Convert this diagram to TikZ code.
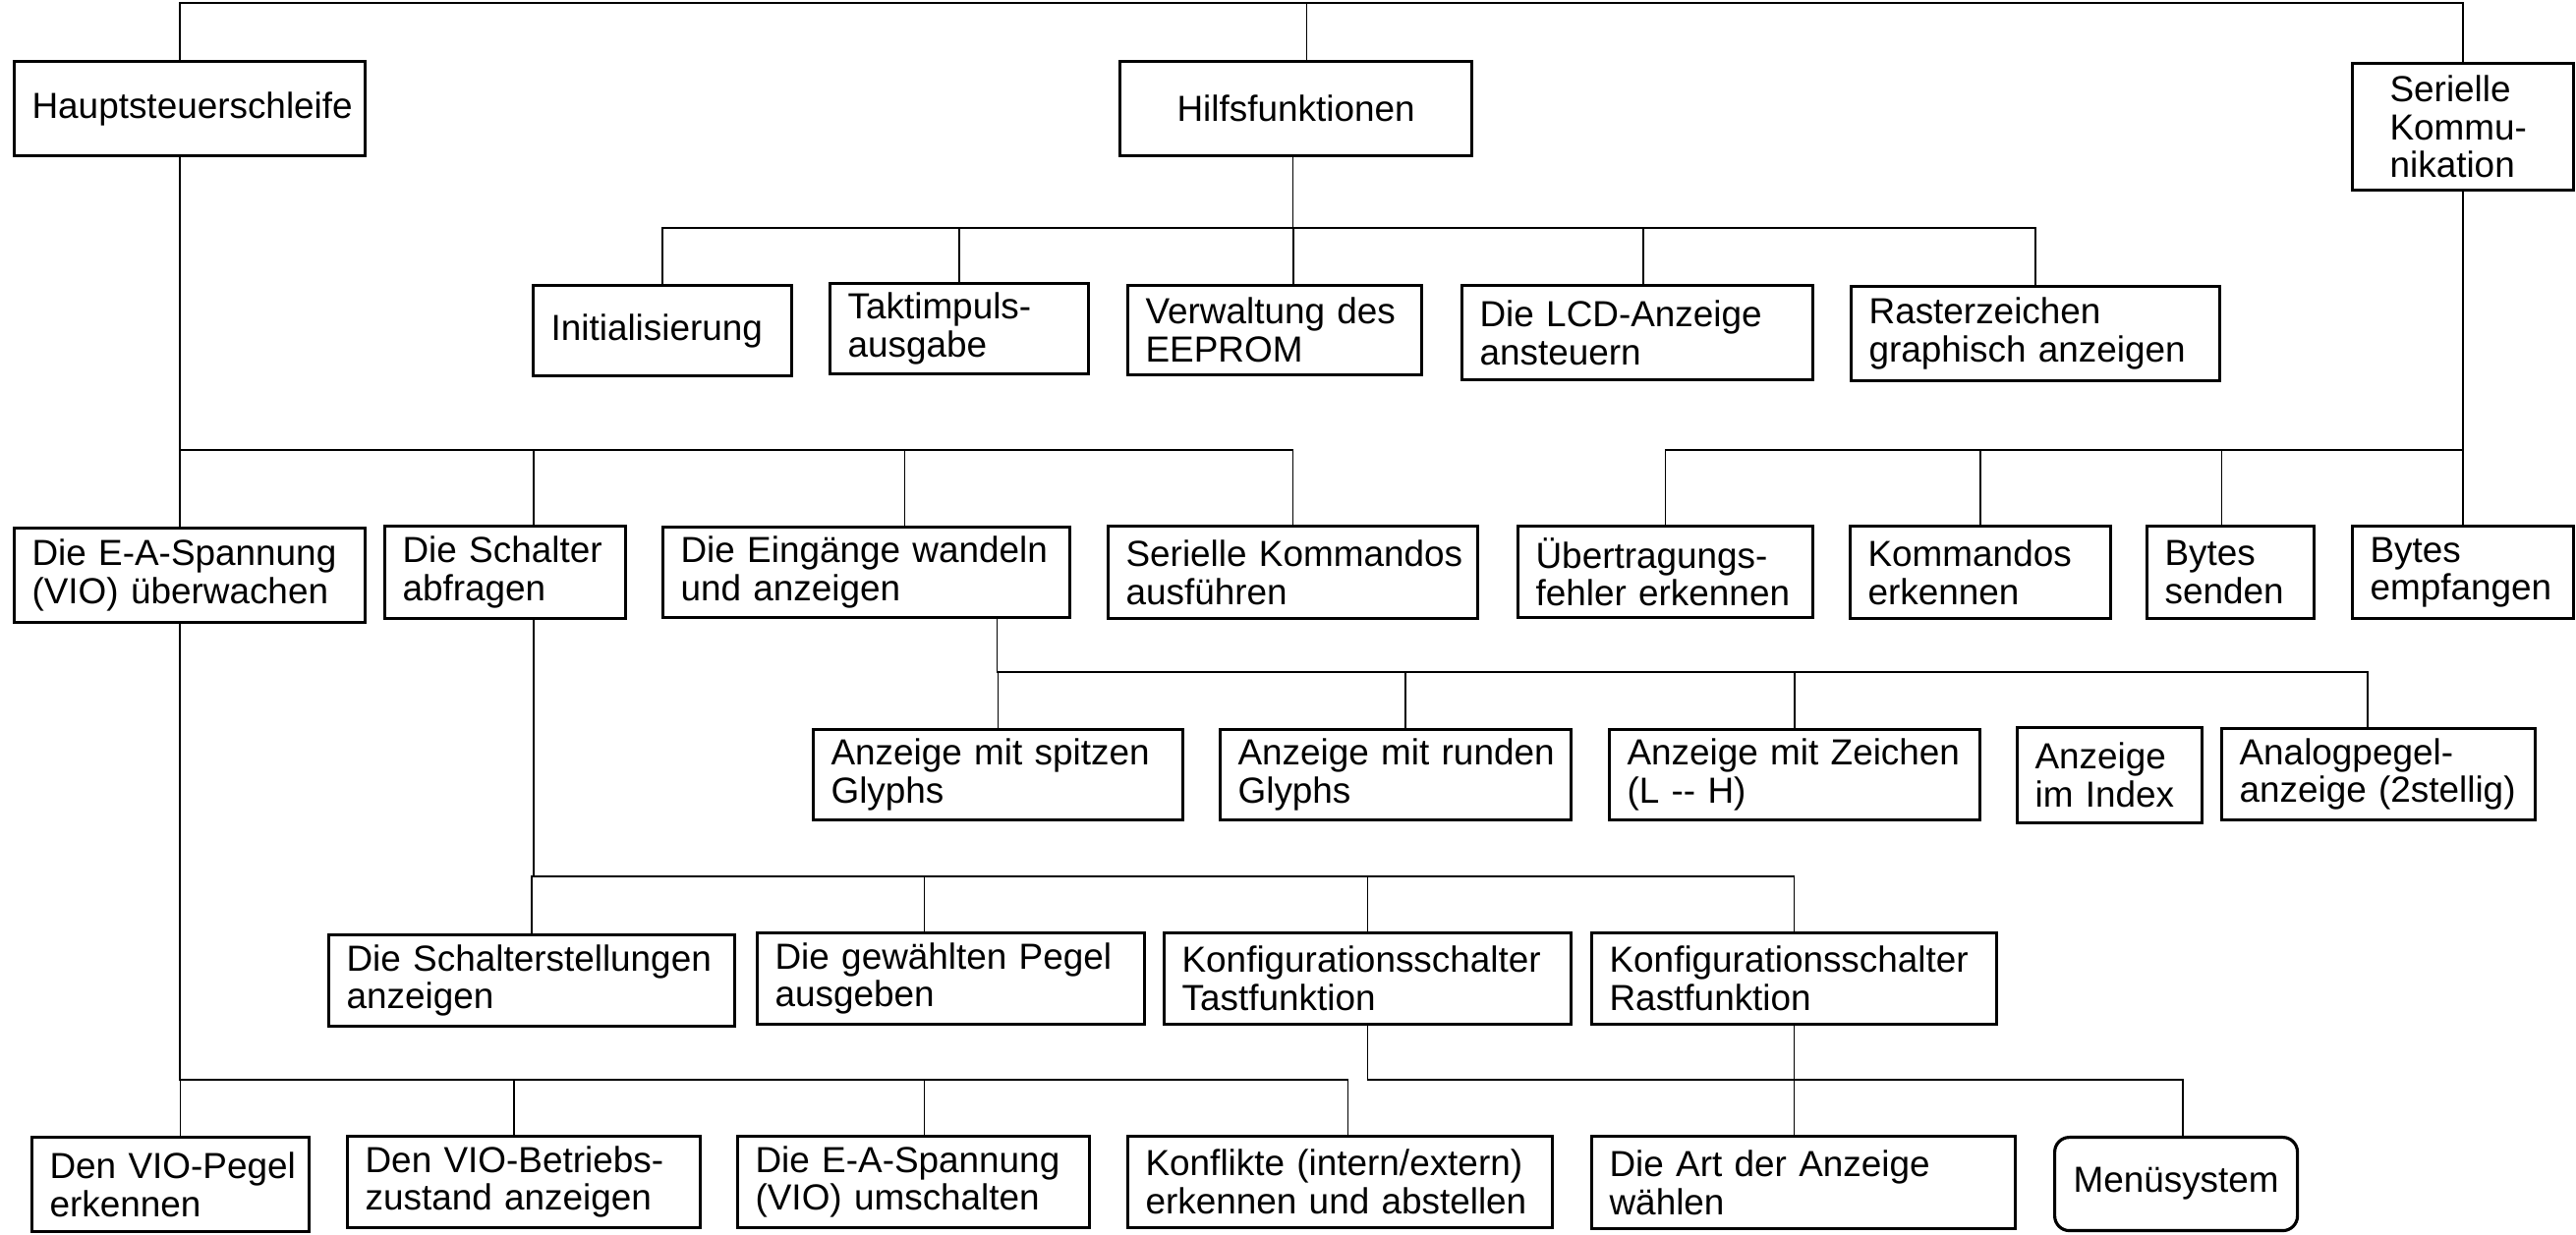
\documentclass[tikz,border=0pt]{standalone}
\usepackage{fontspec}
\setmainfont{Liberation Sans}
\usepackage{tikz}
\hyphenpenalty=10000
\exhyphenpenalty=10000

\begin{document}
\begin{tikzpicture}[-]
                \tikzstyle{box}=[rectangle,draw=black,line width=0.9pt,anchor=north west,inner xsep=0.18cm,inner ysep=0pt,align=left,font=\fontsize{10.5}{11}\selectfont]
                \tikzstyle{link}=[line width=0.45pt]
                \useasboundingbox (0,0) rectangle (26.21,-12.57);

                \foreach \nm/\x/\y/\w/\h/\txt in {haupt/0.13/-0.61/3.57/0.96/{Hauptsteuerschleife},
                        init/5.41/-2.89/2.63/0.92/{Initialisierung},
                        takt/8.43/-2.87/2.63/0.92/{Taktimpuls-\\ausgabe},
                        verw/11.46/-2.89/2.99/0.91/{Verwaltung des\\EEPROM},
                        lcd/14.86/-2.89/3.57/0.96/{Die LCD-Anzeige\\ansteuern},
                        raster/18.82/-2.90/3.75/0.96/{Rasterzeichen\\graphisch anzeigen},
                        vio/0.13/-5.36/3.57/0.96/{Die~E-A-Spannung\\(VIO) überwachen},
                        schalter/3.90/-5.34/2.45/0.94/{Die~Schalter\\abfragen},
                        eing/6.73/-5.35/4.14/0.92/{Die~Eingänge~wandeln\\und anzeigen},
                        serkom/11.26/-5.34/3.76/0.94/{Serielle~Kommandos\\ausführen},
                        ueber/15.43/-5.34/3.00/0.93/{Übertragungs-\\fehler~erkennen},
                        kommerk/18.81/-5.34/2.65/0.94/{Kommandos\\erkennen},
                        bsend/21.83/-5.34/1.70/0.94/{Bytes\\senden},
                        bempf/23.92/-5.34/2.25/0.94/{Bytes\\empfangen},
                        spitz/8.26/-7.41/3.76/0.92/{Anzeige mit spitzen\\Glyphs},
                        rund/12.40/-7.41/3.57/0.92/{Anzeige~mit~runden\\Glyphs},
                        zeich/16.36/-7.41/3.77/0.92/{Anzeige~mit~Zeichen\\(L {-}{-} H)},
                        index/20.51/-7.39/1.88/0.97/{Anzeige\\im Index},
                        analog/22.59/-7.40/3.19/0.93/{Analogpegel-\\anzeige~(2stellig)},
                        stell/3.33/-9.50/4.13/0.93/{Die~Schalterstellungen\\anzeigen},
                        pegel/7.69/-9.48/3.94/0.93/{Die gewählten Pegel\\ausgeben},
                        tast/11.83/-9.48/4.14/0.93/{Konfigurationsschalter\\Tastfunktion},
                        rast/16.18/-9.48/4.12/0.93/{Konfigurationsschalter\\Rastfunktion},
                        vpegel/0.31/-11.56/2.82/0.96/{Den~VIO-Pegel\\erkennen},
                        betr/3.52/-11.55/3.59/0.93/{Den VIO-Betriebs-\\zustand anzeigen},
                        umsch/7.49/-11.55/3.58/0.93/{Die~E-A-Spannung\\(VIO) umschalten},
                        konfl/11.46/-11.55/4.32/0.93/{Konflikte (intern/extern)\\erkennen und abstellen},
                        art/16.18/-11.55/4.31/0.94/{Die Art der Anzeige\\wählen}}
                        \node[box,minimum width=\w cm,minimum height=\h cm,text width=\w cm-0.36cm] (\nm) at (\x,\y) {\txt};

                \node[box,align=center,minimum height=0.96cm,text width=3.22cm] (hilf) at (11.38,-0.61) {Hilfsfunktionen};
                \node[box,inner xsep=0.38cm,minimum height=1.29cm,text width=1.49cm] (seriell) at (23.92,-0.63) {Serielle\\Kommu-\\nikation};
                \node[box,rounded corners=0.15cm,align=center,minimum height=0.95cm,text width=2.11cm] (menue) at (20.89,-11.56) {Menüsystem};

                \coordinate (b0) at (0,-0.03);
                \coordinate (b1) at (0,-2.32);
                \coordinate (b2) at (0,-4.58);
                \coordinate (b3) at (0,-6.84);
                \coordinate (b4) at (0,-8.92);
                \coordinate (b5) at (0,-10.99);

                \draw[link] ([xshift=-0.10cm]haupt.north) |- ([xshift=0.11cm]hilf.north |- b0) -- ([xshift=0.11cm]hilf.north);
                \draw[link] ([xshift=0.11cm]hilf.north |- b0) -| (seriell.north);

                \foreach \from/\fx/\to/\tx/\bus in {hilf/-0.03/init/0/b1, hilf/-0.03/takt/0/b1, hilf/-0.03/verw/0.19/b1,
                        hilf/-0.03/lcd/0.06/b1, hilf/-0.03/raster/0/b1,
                        haupt/-0.10/vio/-0.10/b2, haupt/-0.10/schalter/0.29/b2, haupt/-0.10/eing/0.39/b2, haupt/-0.10/serkom/0/b2,
                        seriell/0/ueber/0/b2, seriell/0/kommerk/0/b2, seriell/0/bsend/-0.09/b2, seriell/0/bempf/0/b2,
                        eing/1.33/spitz/0/b3, eing/1.33/rund/0.10/b3, eing/1.33/zeich/0/b3, eing/1.33/analog/-0.11/b3,
                        schalter/0.29/stell/0/b4, schalter/0.29/pegel/-0.27/b4, schalter/0.29/tast/0/b4, schalter/0.29/rast/0/b4,
                        vio/-0.10/vpegel/0.10/b5, vio/-0.10/betr/-0.10/b5, vio/-0.10/umsch/0.11/b5, vio/-0.10/konfl/0.08/b5,
                        tast/0/menue/0.07/b5}
                        \draw[link] ([xshift=\fx cm]\from.south) |- ([xshift=\tx cm]\to.north |- \bus) -- ([xshift=\tx cm]\to.north);

                \draw[link] (rast.south) -- (rast.south |- art.north);
\end{tikzpicture}
\end{document}
